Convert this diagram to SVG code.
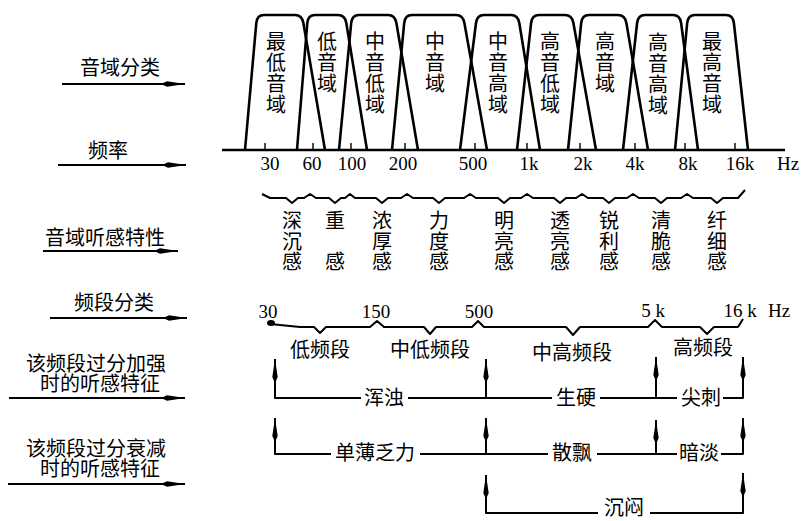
<svg xmlns="http://www.w3.org/2000/svg" width="802" height="521" viewBox="0 0 802 521">
<style>
.cjk{font-family:"Noto Sans CJK SC","Noto Sans CJK TC",sans-serif;font-size:20px;fill:#000}
.v{font-family:"Noto Sans CJK SC","Noto Sans CJK TC",sans-serif;font-size:20px;fill:#000;text-anchor:middle}
.num{font-family:"Liberation Serif",serif;font-size:19px;fill:#000;text-anchor:middle}
.trap{fill:none;stroke:#000;stroke-width:2.6;stroke-linejoin:round}
.ln{fill:none;stroke:#000;stroke-width:2;stroke-linejoin:round}
.tick{stroke:#000;stroke-width:1.4}
</style>
<defs>
<marker id="ah" markerUnits="userSpaceOnUse" markerWidth="26" markerHeight="8" refX="24" refY="4" orient="auto">
<path d="M0,4 L6,1.3 L24,4 L6,6.7 Z" fill="#000"/>
</marker>
</defs>
<rect width="802" height="521" fill="#fff"/>

<!-- left row labels -->
<g id="label-range-class"><text class="cjk" x="120" y="75" text-anchor="middle">音域分类</text></g>
<g id="label-freq"><text class="cjk" x="108" y="158" text-anchor="middle">频率</text></g>
<g id="label-feel"><text class="cjk" x="105" y="245" text-anchor="middle">音域听感特性</text></g>
<g id="label-band-class"><text class="cjk" x="114" y="310" text-anchor="middle">频段分类</text></g>
<g id="label-boost"><text class="cjk" x="96" y="371" text-anchor="middle">该频段过分加强</text><text class="cjk" x="100" y="391" text-anchor="middle">时的听感特征</text></g>
<g id="label-cut"><text class="cjk" x="96" y="456" text-anchor="middle">该频段过分衰减</text><text class="cjk" x="100" y="476" text-anchor="middle">时的听感特征</text></g>

<!-- frequency axis -->
<g id="axis">
<line x1="222" y1="150" x2="785" y2="150" stroke="#000" stroke-width="2.6"/>
<line class="tick" x1="265" y1="143" x2="265" y2="150"/>
<line class="tick" x1="313" y1="143" x2="313" y2="150"/>
<line class="tick" x1="351" y1="143" x2="351" y2="150"/>
<line class="tick" x1="405" y1="143" x2="405" y2="150"/>
<line class="tick" x1="475" y1="143" x2="475" y2="150"/>
<line class="tick" x1="527" y1="143" x2="527" y2="150"/>
<line class="tick" x1="580" y1="143" x2="580" y2="150"/>
<line class="tick" x1="635" y1="143" x2="635" y2="150"/>
<line class="tick" x1="685" y1="143" x2="685" y2="150"/>
<line class="tick" x1="735" y1="143" x2="735" y2="150"/>
<text class="num" x="270" y="170">30</text>
<text class="num" x="312" y="170">60</text>
<text class="num" x="352" y="170">100</text>
<text class="num" x="403" y="170">200</text>
<text class="num" x="473" y="170">500</text>
<text class="num" x="529" y="170">1k</text>
<text class="num" x="583" y="170">2k</text>
<text class="num" x="635" y="170">4k</text>
<text class="num" x="688" y="170">8k</text>
<text class="num" x="740" y="170">16k</text>
<text class="num" x="788" y="170">Hz</text>
</g>

<!-- range trapezoids -->
<g id="range-1">
<path class="trap" d="M245,150 L256.3,23 Q257,15 264,15 L295,15 Q302,15 303.4,23 L325,150"/>
<text class="v"><tspan x="276" y="49">最</tspan><tspan x="276" y="70">低</tspan><tspan x="276" y="91">音</tspan><tspan x="276" y="112">域</tspan></text>
</g>
<g id="range-2">
<path class="trap" d="M297,150 L307.3,23 Q308,15 315,15 L338,15 Q345,15 346.3,23 L367,150"/>
<text class="v"><tspan x="327" y="49">低</tspan><tspan x="327" y="70">音</tspan><tspan x="327" y="91">域</tspan></text>
</g>
<g id="range-3">
<path class="trap" d="M339,150 L351.2,23 Q352,15 359,15 L388,15 Q395,15 396.4,23 L418,150"/>
<text class="v"><tspan x="375" y="49">中</tspan><tspan x="375" y="70">音</tspan><tspan x="375" y="91">低</tspan><tspan x="375" y="112">域</tspan></text>
</g>
<g id="range-4">
<path class="trap" d="M392,150 L404.2,23 Q405,15 412,15 L456,15 Q463,15 464.4,23 L487,150"/>
<text class="v"><tspan x="435" y="49">中</tspan><tspan x="435" y="70">音</tspan><tspan x="435" y="91">域</tspan></text>
</g>
<g id="range-5">
<path class="trap" d="M460,150 L476,23 Q477,15 484,15 L511,15 Q518,15 519.3,23 L540,150"/>
<text class="v"><tspan x="498" y="49">中</tspan><tspan x="498" y="70">音</tspan><tspan x="498" y="91">高</tspan><tspan x="498" y="112">域</tspan></text>
</g>
<g id="range-6">
<path class="trap" d="M517,150 L531.1,23 Q532,15 539,15 L565,15 Q572,15 573.4,23 L596,150"/>
<text class="v"><tspan x="550" y="49">高</tspan><tspan x="550" y="70">音</tspan><tspan x="550" y="91">低</tspan><tspan x="550" y="112">域</tspan></text>
</g>
<g id="range-7">
<path class="trap" d="M568,150 L581.2,23 Q582,15 589,15 L618,15 Q625,15 626.4,23 L648,150"/>
<text class="v"><tspan x="605" y="49">高</tspan><tspan x="605" y="70">音</tspan><tspan x="605" y="91">域</tspan></text>
</g>
<g id="range-8">
<path class="trap" d="M623,150 L637.1,23 Q638,15 645,15 L673,15 Q680,15 681.1,23 L698,150"/>
<text class="v"><tspan x="658" y="50">高</tspan><tspan x="658" y="71">音</tspan><tspan x="658" y="92">高</tspan><tspan x="658" y="113">域</tspan></text>
</g>
<g id="range-9">
<path class="trap" d="M675,150 L687.2,23 Q688,15 695,15 L726,15 Q733,15 733.9,23 L748,150"/>
<text class="v"><tspan x="712" y="49">最</tspan><tspan x="712" y="70">高</tspan><tspan x="712" y="91">音</tspan><tspan x="712" y="112">域</tspan></text>
</g>

<!-- listening feel braces and texts -->
<g id="feel">
<path class="ln" d="M262,194 L270,198 L286,198 L292,203 L298,198 L304,198 L310,194 L316,198 L329,198 L335,203 L341,198 L345,198 L350,194 L355,198 L376,198 L382,203 L388,198 L401,198 L407,194 L413,198 L433,198 L439,203 L445,198 L464,198 L470,194 L476,198 L498,198 L504,203 L510,198 L521,198 L527,194 L533,198 L554,198 L560,203 L566,198 L576,198 L582,194 L588,198 L603,198 L609,203 L615,198 L627,198 L633,194 L639,198 L655,198 L661,203 L667,198 L681,198 L687,194 L693,198 L711,198 L717,203 L723,198 L738,198 L745,190"/>
<text class="v"><tspan x="292" y="228">深</tspan><tspan x="292" y="249">沉</tspan><tspan x="292" y="269">感</tspan></text>
<text class="v"><tspan x="335" y="228">重</tspan><tspan x="335" y="269">感</tspan></text>
<text class="v"><tspan x="382" y="228">浓</tspan><tspan x="382" y="249">厚</tspan><tspan x="382" y="269">感</tspan></text>
<text class="v"><tspan x="439" y="228">力</tspan><tspan x="439" y="249">度</tspan><tspan x="439" y="269">感</tspan></text>
<text class="v"><tspan x="504" y="228">明</tspan><tspan x="504" y="249">亮</tspan><tspan x="504" y="269">感</tspan></text>
<text class="v"><tspan x="560" y="228">透</tspan><tspan x="560" y="249">亮</tspan><tspan x="560" y="269">感</tspan></text>
<text class="v"><tspan x="609" y="228">锐</tspan><tspan x="609" y="249">利</tspan><tspan x="609" y="269">感</tspan></text>
<text class="v"><tspan x="661" y="228">清</tspan><tspan x="661" y="249">脆</tspan><tspan x="661" y="269">感</tspan></text>
<text class="v"><tspan x="717" y="228">纤</tspan><tspan x="717" y="249">细</tspan><tspan x="717" y="269">感</tspan></text>
</g>

<!-- band classification -->
<g id="bands">
<ellipse cx="271" cy="323" rx="4" ry="3" fill="#000"/>
<path class="ln" d="M270,324 L300,327 L314,327 L320,333 L326,327 L370,327 L377,321 L384,327 L424,327 L430,334 L436,327 L472,327 L478,321 L484,327 L566,327 L573,335 L580,327 L648,327 L655,320 L662,327 L700,327 L707,334 L714,327 L738,327 L743,319"/>
<text class="num" x="268" y="318">30</text>
<text class="num" x="376" y="318">150</text>
<text class="num" x="479" y="318">500</text>
<text class="num" x="653" y="317">5 k</text>
<text class="num" x="740" y="317">16 k</text>
<text class="num" x="779" y="317">Hz</text>
</g>
<g id="band-low"><text class="cjk" x="320" y="357" text-anchor="middle">低频段</text></g>
<g id="band-midlow"><text class="cjk" x="430" y="357" text-anchor="middle">中低频段</text></g>
<g id="band-midhigh"><text class="cjk" x="572" y="360" text-anchor="middle">中高频段</text></g>
<g id="band-high"><text class="cjk" x="703" y="355" text-anchor="middle">高频段</text></g>

<!-- feature labels -->
<g id="boost-low"><text class="cjk" x="384" y="405" text-anchor="middle">浑浊</text></g>
<g id="boost-mid"><text class="cjk" x="576" y="405" text-anchor="middle">生硬</text></g>
<g id="boost-high"><text class="cjk" x="701" y="405" text-anchor="middle">尖刺</text></g>
<g id="cut-low"><text class="cjk" x="375" y="460" text-anchor="middle">单薄乏力</text></g>
<g id="cut-mid"><text class="cjk" x="572" y="460" text-anchor="middle">散飘</text></g>
<g id="cut-high"><text class="cjk" x="699" y="460" text-anchor="middle">暗淡</text></g>
<g id="cut-muffled"><text class="cjk" x="624" y="515" text-anchor="middle" font-size="19">沉闷</text></g>

<!-- connectors -->
<g id="connectors">
<line class="ln" x1="62" y1="84" x2="185" y2="84" marker-end="url(#ah)"/>
<line class="ln" x1="58" y1="165" x2="186" y2="165" marker-end="url(#ah)"/>
<line class="ln" x1="43" y1="251" x2="178" y2="251" marker-end="url(#ah)"/>
<line class="ln" x1="50" y1="318" x2="187" y2="318" marker-end="url(#ah)"/>
<line class="ln" x1="9" y1="398" x2="185" y2="398" marker-end="url(#ah)"/>
<line class="ln" x1="8" y1="484" x2="185" y2="484" marker-end="url(#ah)"/>

<path class="ln" d="M361,398 H275 V359" marker-end="url(#ah)"/>
<line class="ln" x1="408" y1="398" x2="552" y2="398"/>
<line class="ln" x1="486" y1="398" x2="486" y2="359" marker-end="url(#ah)"/>
<line class="ln" x1="600" y1="398" x2="677" y2="398"/>
<line class="ln" x1="656" y1="398" x2="656" y2="357" marker-end="url(#ah)"/>
<path class="ln" d="M723,398 H743 V357" marker-end="url(#ah)"/>

<path class="ln" d="M331,454 H275 V418" marker-end="url(#ah)"/>
<line class="ln" x1="420" y1="454" x2="548" y2="454"/>
<line class="ln" x1="486" y1="454" x2="486" y2="418" marker-end="url(#ah)"/>
<line class="ln" x1="597" y1="454" x2="677" y2="454"/>
<line class="ln" x1="656" y1="454" x2="656" y2="420" marker-end="url(#ah)"/>
<path class="ln" d="M721,454 H743 V418" marker-end="url(#ah)"/>

<path class="ln" d="M598,513 H486 V475" marker-end="url(#ah)"/>
<path class="ln" d="M650,513 H743 V473" marker-end="url(#ah)"/>
</g>
</svg>
